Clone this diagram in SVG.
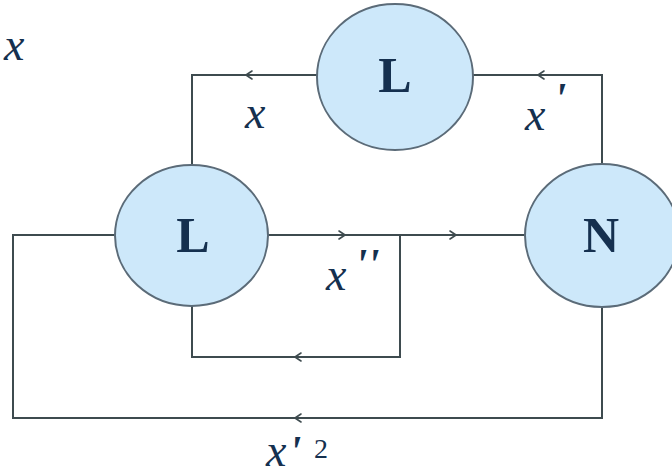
<svg xmlns="http://www.w3.org/2000/svg" width="672" height="475" viewBox="0 0 672 475">
  <style>
    .node ellipse { fill: #cde8fa; stroke: #5b6b78; stroke-width: 2; }
    .node text { font-weight: bold; font-size: 50px; fill: #15304f; text-anchor: middle; }
    .wire { fill: none; stroke: #3e4b4f; stroke-width: 2; }
    .arr { fill: none; stroke: #3e4b4f; stroke-width: 1.6; stroke-linecap: round; stroke-linejoin: round; }
    .lbl { font-style: italic; font-size: 46px; fill: #15304f; }
    .pr { font-style: italic; font-weight: bold; font-size: 44px; fill: #15304f; }
    .num { font-size: 28px; fill: #15304f; }
  </style>
  <rect width="672" height="475" fill="#ffffff"/>
  <g id="connectors">
    <path class="wire" d="M317,75 H192 V166"/>
    <path class="wire" d="M473,75 H602 V164"/>
    <path class="wire" d="M268,235 H525"/>
    <path class="wire" d="M400,235 V357 H192 V306"/>
    <path class="wire" d="M115,235 H13 V418 H602 V306"/>
    <path class="arr" d="M252,71 L246,75 L252,79"/>
    <path class="arr" d="M544,71 L538,75 L544,79"/>
    <path class="arr" d="M339,231 L345,235 L339,239"/>
    <path class="arr" d="M450,231 L456,235 L450,239"/>
    <path class="arr" d="M301,353 L295,357 L301,361"/>
    <path class="arr" d="M301,414 L295,418 L301,422"/>
  </g>
  <g id="node-L-top" class="node" font-family="'Liberation Serif', 'DejaVu Serif', serif">
    <ellipse cx="395" cy="77" rx="78" ry="73"/>
    <text x="395" y="92">L</text>
  </g>
  <g id="node-L-left" class="node" font-family="'Liberation Serif', 'DejaVu Serif', serif">
    <ellipse cx="191.5" cy="235.5" rx="76.5" ry="70.5"/>
    <text x="193" y="252">L</text>
  </g>
  <g id="node-N" class="node" font-family="'Liberation Serif', 'DejaVu Serif', serif">
    <ellipse cx="602" cy="235.5" rx="77" ry="71.5"/>
    <text x="601" y="252">N</text>
  </g>
  <g id="labels" font-family="'Liberation Serif', 'DejaVu Serif', serif">
    <text class="lbl" x="4" y="60">x</text>
    <text class="lbl" x="245" y="128">x</text>
    <text class="lbl" x="525" y="130">x</text>
    <text class="pr" x="554" y="113">'</text>
    <text class="lbl" x="326" y="290">x</text>
    <text class="pr" x="355" y="279">''</text>
    <text class="lbl" x="266" y="466">x</text>
    <text class="pr" x="289" y="466">'</text>
    <text class="num" x="314" y="458">2</text>
  </g>
</svg>
